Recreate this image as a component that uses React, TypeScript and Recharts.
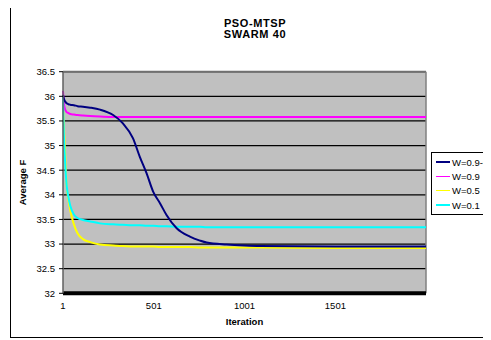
import React from 'react';
import { LineChart, Line, XAxis, YAxis, CartesianGrid, Legend, ReferenceLine } from 'recharts';

const iterations = [1, 6, 12, 21, 31, 41, 61, 81, 111, 151, 205, 277, 331, 386, 424, 461, 498, 535, 571, 627, 700, 755, 792, 902, 1001, 1085, 1501, 2000];
const w0904 = [36.03, 35.95, 35.9, 35.86, 35.84, 35.83, 35.82, 35.8, 35.79, 35.77, 35.73, 35.62, 35.45, 35.15, 34.77, 34.44, 34.06, 33.83, 33.59, 33.32, 33.15, 33.07, 33.03, 32.99, 32.97, 32.96, 32.95, 32.95];
const w09 = [36.11, 35.85, 35.74, 35.68, 35.66, 35.64, 35.63, 35.62, 35.61, 35.6, 35.59, 35.58, 35.58, 35.58, 35.58, 35.58, 35.58, 35.58, 35.58, 35.58, 35.58, 35.58, 35.58, 35.58, 35.58, 35.58, 35.58, 35.58];
const w05 = [36.0, 35.4, 34.9, 34.2, 33.9, 33.68, 33.4, 33.22, 33.1, 33.04, 32.99, 32.97, 32.96, 32.95, 32.95, 32.95, 32.95, 32.94, 32.94, 32.94, 32.94, 32.93, 32.93, 32.93, 32.93, 32.93, 32.92, 32.92];
const w01 = [36.0, 35.2, 34.71, 34.2, 33.95, 33.78, 33.6, 33.53, 33.49, 33.46, 33.42, 33.4, 33.39, 33.38, 33.38, 33.37, 33.37, 33.36, 33.36, 33.35, 33.35, 33.35, 33.34, 33.34, 33.34, 33.34, 33.34, 33.34];

const seriesNames = ['W=0.9-0.4', 'W=0.9', 'W=0.5', 'W=0.1'];
const seriesColors = ['#000080', '#FF00FF', '#FFFF00', '#00FFFF'];
const yTicks = [32, 32.5, 33, 33.5, 34, 34.5, 35, 35.5, 36, 36.5];
const xTicks = [1, 501, 1001, 1501];
const titleLines = ['PSO-MTSP', 'SWARM 40'];

const data = iterations.map((it, i) => ({
  it,
  w0904: w0904[i],
  w09: w09[i],
  w05: w05[i],
  w01: w01[i],
}));

const FONT = '"Liberation Sans", Arial, sans-serif';

const LegendBox = () => (
  <div
    style={{
      border: '1px solid #000',
      background: '#fff',
      width: 100,
      padding: '2px 0 2px 4px',
      boxSizing: 'border-box',
      fontFamily: FONT,
      fontSize: 9.5,
      color: '#000',
    }}
  >
    {seriesNames.map((n, i) => (
      <div key={n} style={{ display: 'flex', alignItems: 'center', height: 14.3, whiteSpace: 'nowrap' }}>
        <div style={{ width: 14, height: 1.5, background: seriesColors[i], marginRight: 2, flex: 'none' }} />
        <span>{n}</span>
      </div>
    ))}
  </div>
);

export default function App() {
  return (
    <div
      style={{
        position: 'relative',
        width: 491,
        height: 340,
        marginLeft: -8,
        marginTop: -8,
        overflow: 'hidden',
        background: '#fff',
        fontFamily: FONT,
      }}
    >
      <div
        style={{
          position: 'absolute',
          left: 10,
          top: 3,
          width: 520,
          height: 335,
          border: '1px solid #000',
          boxSizing: 'border-box',
        }}
      />
      <div
        style={{
          position: 'absolute',
          left: 155,
          width: 200,
          top: 18,
          textAlign: 'center',
          fontWeight: 'bold',
          fontSize: 11,
          lineHeight: '11px',
          letterSpacing: 0.6,
          color: '#000',
        }}
      >
        {titleLines.map((t) => (
          <div key={t}>{t}</div>
        ))}
      </div>
      <div style={{ position: 'absolute', left: 0, top: 0 }}>
        <LineChart
          width={491}
          height={340}
          data={data}
          margin={{ top: 71.7, right: 65, bottom: 26.7, left: 23 }}
        >
          <CartesianGrid horizontal vertical={false} stroke="#000" strokeWidth={1.2} fill="#C0C0C0" />
          <XAxis
            dataKey="it"
            type="number"
            domain={[1, 2000]}
            ticks={xTicks}
            interval={0}
            height={20}
            tickLine={false}
            tickSize={6}
            tickMargin={3}
            axisLine={{ stroke: '#000', strokeWidth: 4 }}
            tick={{ fill: '#000', fontSize: 9.5, fontFamily: FONT }}
            label={(props: any) => {
              const vb = props.viewBox || {};
              return (
                <text
                  x={vb.x + vb.width / 2}
                  y={vb.y + 32}
                  textAnchor="middle"
                  fontFamily={FONT}
                  fontSize={9.5}
                  fontWeight="bold"
                  fill="#000"
                >
                  Iteration
                </text>
              );
            }}
          />
          <YAxis
            type="number"
            domain={[32, 36.5]}
            ticks={yTicks}
            interval={0}
            width={40}
            tickSize={4}
            tickMargin={4}
            allowDataOverflow
            axisLine={{ stroke: '#606060', strokeWidth: 1.5 }}
            tickLine={{ stroke: '#000' }}
            tick={{ fill: '#000', fontSize: 9.5, fontFamily: FONT }}
            label={(props: any) => {
              const vb = props.viewBox || {};
              const cx = vb.x - 1;
              const cy = vb.y + vb.height / 2;
              return (
                <text
                  x={cx}
                  y={cy}
                  transform={`rotate(-90 ${cx} ${cy})`}
                  textAnchor="middle"
                  dominantBaseline="central"
                  fontFamily={FONT}
                  fontSize={9.5}
                  fontWeight="bold"
                  fill="#000"
                >
                  Average F
                </text>
              );
            }}
          />
          <ReferenceLine y={36.5} stroke="#707070" strokeWidth={2} />
          <ReferenceLine x={2000} stroke="#808080" strokeWidth={1.5} />
          <Line dataKey="w05" stroke={seriesColors[2]} strokeWidth={2} dot={false} isAnimationActive={false} type="monotone" />
          <Line dataKey="w09" stroke={seriesColors[1]} strokeWidth={2} dot={false} isAnimationActive={false} type="monotone" />
          <Line dataKey="w01" stroke={seriesColors[3]} strokeWidth={2} dot={false} isAnimationActive={false} type="monotone" />
          <Line dataKey="w0904" stroke={seriesColors[0]} strokeWidth={2} dot={false} isAnimationActive={false} type="monotone" />
          <Legend
            layout="vertical"
            align="center"
            verticalAlign="middle"
            content={() => <LegendBox />}
            wrapperStyle={{ left: 431, top: 152, width: 100, height: 60 }}
          />
        </LineChart>
      </div>
    </div>
  );
}
